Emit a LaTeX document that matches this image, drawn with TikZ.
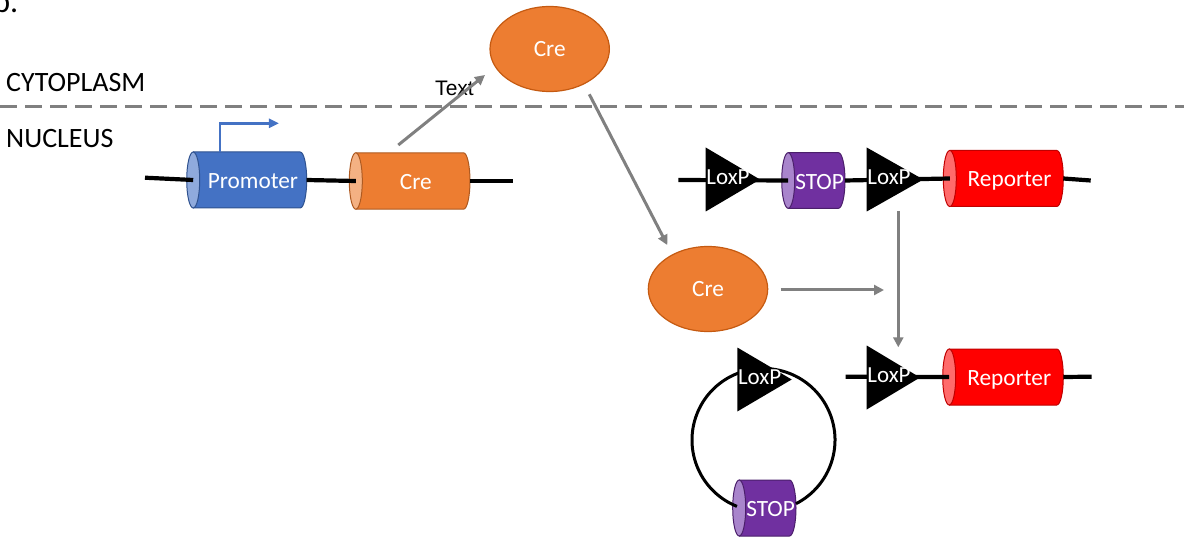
\documentclass[tikz,border=0pt]{standalone}
\usepackage{fontspec}
\setmainfont{Carlito}
\newfontfamily\arialfont{Liberation Sans}
\usetikzlibrary{arrows.meta,shapes.geometric,calc}
\pgfdeclarelayer{bg}\pgfdeclarelayer{lines}
\pgfsetlayers{bg,lines,main}
\definecolor{orBody}{HTML}{ED7D31}\definecolor{orEnd}{HTML}{F4B183}\definecolor{orLine}{HTML}{AE5A21}
\definecolor{blBody}{HTML}{4472C4}\definecolor{blEnd}{HTML}{8FAADC}\definecolor{blLine}{HTML}{2F528F}
\definecolor{puBody}{HTML}{7030A0}\definecolor{puEnd}{HTML}{A985CC}\definecolor{puLine}{HTML}{4B1F6B}
\definecolor{rdBody}{HTML}{FF0000}\definecolor{rdEnd}{HTML}{FF6B6B}\definecolor{rdLine}{HTML}{C00000}
\definecolor{grArrow}{HTML}{808080}
\definecolor{ellLine}{HTML}{C55A11}
\tikzset{
  cyllabel/.style={inner sep=0pt,text depth=0pt,text=white,font=\fontsize{23.3}{27}\selectfont},
  loxlabel/.style={inner sep=0pt,anchor=west,text=white,font=\fontsize{23}{27}\selectfont},
  creell/.style={ellipse,fill=orBody,draw=ellLine,line width=1.2pt,minimum width=119.4pt,minimum height=85pt,inner sep=0pt,text=white,font=\fontsize{23.3}{27}\selectfont},
  dna/.style={line width=4.2pt,black},
  ring/.style={line width=3pt,black},
  garrow/.style={line width=3pt,grArrow,-{Triangle[length=10pt,width=10pt]}},
  barrow/.style={line width=2.7pt,blBody,-{Triangle[length=10pt,width=9pt]}},
  dashline/.style={line width=2.5pt,grArrow,dash pattern=on 17pt off 8pt},
  side/.style={inner sep=0pt,anchor=base west,font=\fontsize{28}{32}\selectfont},
  plain/.style={inner sep=0pt,font=\arialfont\fontsize{21}{25}\selectfont},
}
% #1 name, #2 left x, #3 centre y, #4 right x, #5 radius y, #6 body, #7 end, #8 border, #9 label
\newcommand{\dnacyl}[9]{%
  \begin{pgfonlayer}{bg}
  \filldraw[fill=#6,draw=#8,line width=1pt,line join=round] ({#2+6.5},{#3-#5}) -- ({#4-6.5},{#3-#5}) arc[start angle=-90,end angle=90,x radius=6.5,y radius=#5] -- ({#2+6.5},{#3+#5}) -- cycle;
  \filldraw[fill=#7,draw=#8,line width=1pt] ({#2+6.5},#3) ellipse[x radius=6.5,y radius=#5];
  \end{pgfonlayer}
  \coordinate (#1-l) at ({#2+6.5},#3);
  \coordinate (#1-r) at (#4,#3);
  \node[cyllabel] (#1) at ({(#2+6.5+#4)/2+3},{#3+1}) {#9};
}
% #1 name, #2 left x, #3 centre y, #4 width
\newcommand{\loxp}[4]{%
  \begin{pgfonlayer}{bg}
  \fill[black] (#2,{#3-32}) -- (#2,{#3+32}) -- ({#2+#4},#3) -- cycle;
  \end{pgfonlayer}
  \coordinate (#1-base) at (#2,#3);
  \node[loxlabel] (#1) at ({#2+0.5},{#3-2}) {LoxP};
}
\begin{document}
\begin{tikzpicture}[x=1pt,y=-1pt]
\useasboundingbox (0,0) rectangle (1184,540);

% heading fragment and compartment labels
\node[inner sep=0pt,anchor=base east,font=\fontsize{32}{36}\selectfont] (hd) at (18.5,12.7) {b.};
\node[side] (cyto) at (6,92) {CYTOPLASM};
\node[side] (nuc) at (6,148) {NUCLEUS};
\coordinate (dl0) at (0,106.5);
\coordinate (dl1) at (1184,106.5);
\draw[dashline] (dl0) -- (dl1);

% left construct
\dnacyl{prom}{186.7}{180}{306.7}{28}{blBody}{blEnd}{blLine}{Promoter}
\dnacyl{cre}{349.3}{181}{470}{28.2}{orBody}{orEnd}{orLine}{Cre}
\coordinate (a0) at (145,177.7);
\coordinate (a1) at (512.7,181);
\begin{pgfonlayer}{lines}
\draw[dna] (a0) -- (prom-l);
\draw[dna] (prom-r) -- (cre-l);
\draw[dna] (cre-r) -- (a1);
\end{pgfonlayer}
\draw[barrow] ([shift={(-33,-29)}]prom.center) |- ([shift={(26,-57.7)}]prom.center);

% Cre proteins
\node[creell] (creT) at (549.7,49) {Cre};
\node[creell] (creB) at (708,289) {Cre};
\node[plain] (txt) at (454.5,88) {Text};
\draw[garrow] ([shift={(-17.6,-37)}]cre.center) -- ([shift={(-64.7,26)}]creT.center);
\draw[garrow] ([shift={(39.6,45.3)}]creT.center) -- ([shift={(-40.7,-44)}]creB.center);
\draw[garrow] ([shift={(72.7,1)}]creB.center) -- ([shift={(176,1)}]creB.center);

% reporter construct (before)
\loxp{loxA}{705.7}{179.5}{54.3}
\dnacyl{stopA}{781.7}{180.5}{845}{27.8}{puBody}{puEnd}{puLine}{STOP}
\loxp{loxB}{866.7}{179.5}{56.6}
\dnacyl{repA}{943.3}{178.5}{1063.3}{28}{rdBody}{rdEnd}{rdLine}{Reporter}
\coordinate (b0) at (678.3,180);
\coordinate (b1) at (1090.7,180.5);
\begin{pgfonlayer}{lines}
\draw[dna] (b0) -- (stopA-l);
\draw[dna] (stopA-r) -- (repA-l);
\draw[dna] (repA-r) -- (b1);
\end{pgfonlayer}

% reporter construct (after)
\loxp{loxC}{866.7}{377.5}{53.3}
\dnacyl{repB}{942.7}{377}{1063.3}{28}{rdBody}{rdEnd}{rdLine}{Reporter}
\coordinate (c0) at (845.7,376.7);
\coordinate (c1) at (1091.7,376.7);
\begin{pgfonlayer}{lines}
\draw[dna] (c0) -- (repB-l);
\draw[dna] (repB-r) -- (c1);
\end{pgfonlayer}
\draw[garrow] ([shift={(31.6,31.5)}]loxB-base) -- ([shift={(31.6,-30.2)}]loxC-base);

% excised circle
\loxp{loxD}{737.3}{379.5}{54.4}
\dnacyl{stopB}{732.7}{508}{796}{28}{puBody}{puEnd}{puLine}{STOP}
\coordinate (plas) at (763.5,440);
\begin{pgfonlayer}{lines}
\draw[ring] (plas) ++(63:71.5) arc[start angle=63,end angle=-248.2,radius=71.5];
\end{pgfonlayer}
\end{tikzpicture}
\end{document}
